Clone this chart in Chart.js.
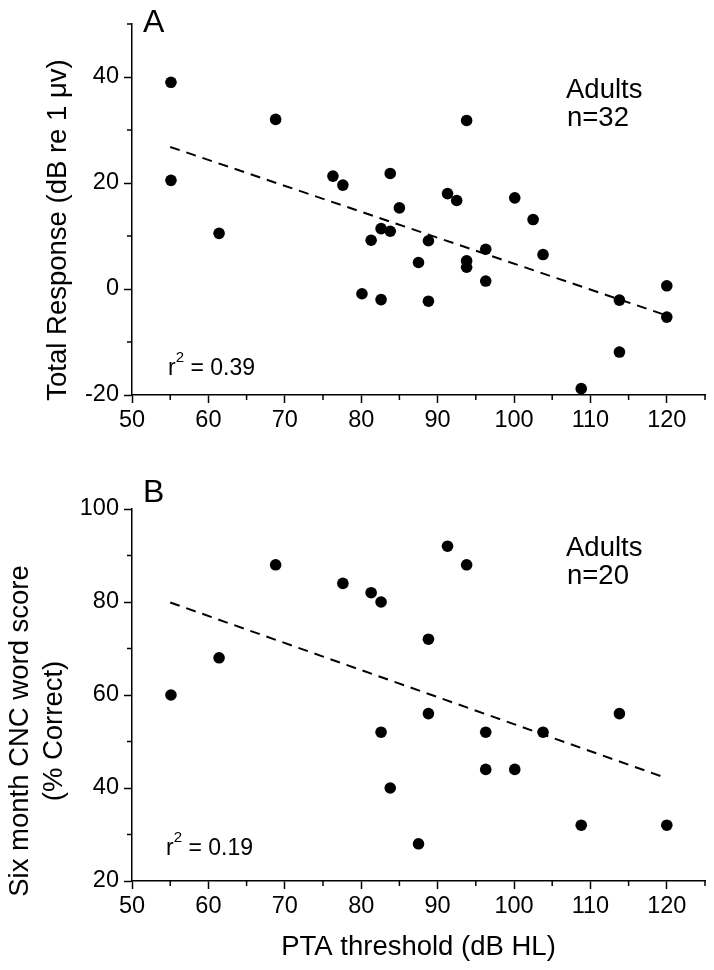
<!DOCTYPE html>
<html>
<head>
<meta charset="utf-8">
<script src="https://cdn.jsdelivr.net/npm/chart.js@4.4.1/dist/chart.umd.min.js"></script>
<style>
    body { margin: 0; background: #fff; }
    .panel { position: absolute; left: 0; width: 714px; }
</style>
</head>
<body>
<div class="panel" style="top:0;height:470px"><canvas id="panel_a" width="714" height="470"></canvas></div>
<div class="panel" style="top:470px;height:500px"><canvas id="panel_b" width="714" height="500"></canvas></div>
<script>
// panel A: PTA threshold vs total response
var ptaA = [55.1, 55.1, 61.4, 68.8, 76.3, 77.6, 83.8, 85.0, 82.6, 81.3, 83.8, 80.1, 82.6, 87.5, 88.8, 88.8,
            91.3, 92.5, 93.8, 93.8, 93.8, 96.3, 96.3, 100.1, 102.5, 103.8, 113.8, 113.8, 108.8, 120, 120];
var responseA = [39.0, 20.5, 10.5, 32.0, 21.3, 19.6, 21.8, 15.3, 11.4, 9.2, 10.9, -0.9, -2.0, 5.0, 9.1, -2.3,
                 18.0, 16.7, 31.8, 5.3, 4.1, 7.5, 1.5, 17.2, 13.1, 6.5, -2.1, -11.9, -18.8, 0.6, -5.3];

// panel B: PTA threshold vs six month CNC word score
var ptaB = [55.1, 61.4, 68.8, 77.6, 81.3, 82.6, 88.8, 91.3, 93.8, 88.8,
            82.6, 83.8, 87.5, 96.3, 96.3, 100.1, 103.8, 113.8, 108.8, 120];
var cncB = [60, 68, 88, 84, 82, 80, 72, 92, 88, 56,
            52, 40, 28, 52, 44, 44, 52, 56, 32, 32];

// regression lines (end points)
var fitX = [55, 120];
var fitA = [26.8, -5.0];
var fitB = [79.9, 42.1];

var fontFamily = '"Liberation Sans", Arial, sans-serif';
var tickFamily = '"Liberation Sans Narrow", "Arial Narrow", "Liberation Sans", sans-serif';
Chart.defaults.font.family = fontFamily;
Chart.defaults.color = '#000';

function toPoints(xs, ys) {
    var pts = [];
    for (var i = 0; i < xs.length; i++) pts.push({x: xs[i], y: ys[i]});
    return pts;
}

// minor ticks + text labels inside the panel
var panelText = {
    id: 'panelText',
    afterDraw: function(chart) {
        var o = chart.options.plugins.panelText;
        var ctx = chart.ctx;
        var area = chart.chartArea;
        ctx.save();
        ctx.strokeStyle = '#000';
        ctx.lineWidth = 1.5;
        chart.scales.x.ticks.forEach(function(t) {
            if (t.value % 10 != 0) {
                var px = chart.scales.x.getPixelForValue(t.value);
                ctx.beginPath();
                ctx.moveTo(px, area.bottom);
                ctx.lineTo(px, area.bottom + 5);
                ctx.stroke();
            }
        });
        chart.scales.y.ticks.forEach(function(t) {
            if (t.value % 20 != 0) {
                var py = chart.scales.y.getPixelForValue(t.value);
                ctx.beginPath();
                ctx.moveTo(area.left - 5, py);
                ctx.lineTo(area.left, py);
                ctx.stroke();
            }
        });

        ctx.fillStyle = '#000';
        ctx.textBaseline = 'alphabetic';
        ctx.textAlign = 'left';
        ctx.font = '32px ' + fontFamily;
        ctx.fillText(o.letter, 143, 32);

        ctx.font = '27.5px ' + fontFamily;
        ctx.fillText(o.group, 566, o.groupY);
        ctx.fillText(o.count, 567, o.groupY + 28);

        // r squared
        var x = o.rx;
        ctx.font = '23px ' + fontFamily;
        ctx.fillText('r', x, o.ry);
        x += ctx.measureText('r').width;
        ctx.font = '15px ' + fontFamily;
        ctx.fillText('2', x, o.ry - 13);
        x += ctx.measureText('2').width;
        ctx.font = '23px ' + fontFamily;
        ctx.fillText(' = ' + o.r2, x, o.ry);

        // y axis title (rotated)
        ctx.font = '27.5px ' + fontFamily;
        ctx.textAlign = 'center';
        for (var i = 0; i < o.yTitle.length; i++) {
            ctx.save();
            ctx.translate(o.yTitleX[i], o.yTitleY);
            ctx.rotate(-Math.PI / 2);
            ctx.fillText(o.yTitle[i], 0, 0);
            ctx.restore();
        }
        ctx.restore();
    }
};

function drawPanel(id, xs, ys, fitY, yMin, yMax, opts) {
    var ctx = document.getElementById(id).getContext('2d');
    return new Chart(ctx, {
        type: 'scatter',
        data: {
            datasets: [{
                data: toPoints(xs, ys),
                backgroundColor: '#000',
                borderColor: '#000',
                pointRadius: 5.8,
                pointBorderWidth: 0,
                clip: false
            }, {
                type: 'line',
                data: toPoints(fitX, fitY),
                borderColor: '#000',
                borderWidth: 2,
                borderDash: [10, 7],
                pointRadius: 0,
                fill: false,
                clip: false
            }]
        },
        options: {
            responsive: false,
            animation: false,
            events: [],
            layout: {padding: {left: 0, right: 9, top: opts.top, bottom: 0}},
            plugins: {
                legend: {display: false},
                tooltip: {enabled: false},
                panelText: opts.text
            },
            scales: {
                x: {
                    type: 'linear',
                    min: 50,
                    max: 125,
                    afterFit: function(scale) { scale.height = opts.xHeight; },
                    ticks: {
                        stepSize: 5,
                        autoSkip: false,
                        maxRotation: 0,
                        padding: 3,
                        font: {size: 23.5, family: tickFamily},
                        callback: function(v) { return v % 10 == 0 ? v : ''; }
                    },
                    grid: {
                        drawOnChartArea: false,
                        drawTicks: true,
                        tickLength: 8,
                        tickWidth: 1.5,
                        tickColor: function(c) { return c.tick && c.tick.value % 10 == 0 ? '#000' : 'rgba(0,0,0,0)'; }
                    },
                    border: {color: '#000', width: 1.5},
                    title: opts.xTitle
                },
                y: {
                    min: yMin,
                    max: yMax,
                    afterFit: function(scale) { scale.width = 132; },
                    ticks: {
                        stepSize: 10,
                        autoSkip: false,
                        padding: 5,
                        font: {size: 23.5, family: tickFamily},
                        callback: function(v) { return v % 20 == 0 ? v : ''; }
                    },
                    grid: {
                        drawOnChartArea: false,
                        drawTicks: true,
                        tickLength: 8,
                        tickWidth: 1.5,
                        tickColor: function(c) { return c.tick && c.tick.value % 20 == 0 ? '#000' : 'rgba(0,0,0,0)'; }
                    },
                    border: {color: '#000', width: 1.5}
                }
            }
        },
        plugins: [panelText]
    });
}

drawPanel('panel_a', ptaA, responseA, fitA, -20, 50, {
    top: 24,
    xHeight: 75,
    xTitle: {display: false},
    text: {
        letter: 'A', group: 'Adults', count: 'n=32', groupY: 98,
        r2: '0.39', rx: 168, ry: 375,
        yTitle: ['Total Response (dB re 1 \u03BCv)'], yTitleX: [66], yTitleY: 230
    }
});

drawPanel('panel_b', ptaB, cncB, fitB, 20, 100, {
    top: 39,
    xHeight: 89,
    xTitle: {display: true, text: 'PTA threshold (dB HL)', font: {size: 27.5}, padding: {top: 0, bottom: 6}},
    text: {
        letter: 'B', group: 'Adults', count: 'n=20', groupY: 86,
        r2: '0.19', rx: 166, ry: 385,
        yTitle: ['Six month CNC word score', '(% Correct)'], yTitleX: [28, 62], yTitleY: 261
    }
});
</script>
</body>
</html>
